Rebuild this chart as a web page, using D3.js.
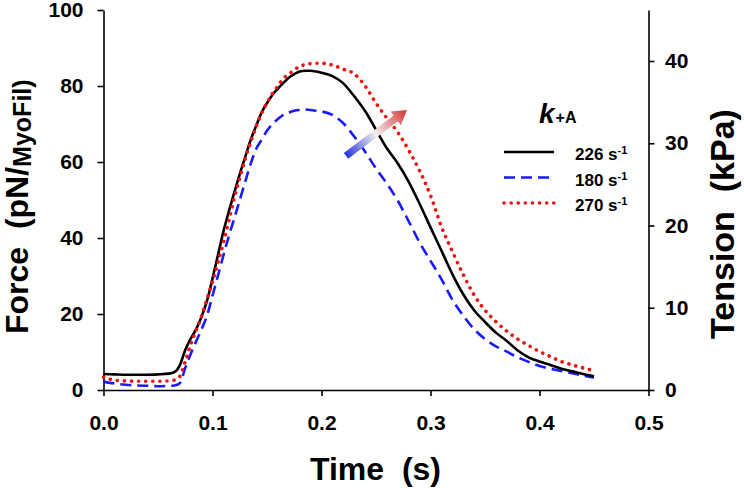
<!DOCTYPE html>
<html>
<head>
<meta charset="utf-8">
<script src="https://cdn.jsdelivr.net/npm/d3@7"></script>
<style>
  html, body { margin: 0; padding: 0; background: #fff; }
  svg { display: block; font-family: "Liberation Sans", Arial, sans-serif; }
</style>
</head>
<body>
<svg id="chart" width="744" height="488"></svg>
<script>
// ---------------- data ----------------
const TIME = [0, 0.01, 0.02, 0.03, 0.04, 0.05, 0.06, 0.065, 0.07, 0.075, 0.08, 0.085, 0.09, 0.095,
  0.10, 0.105, 0.11, 0.115, 0.12, 0.125, 0.13, 0.135, 0.14, 0.145, 0.15, 0.155, 0.16, 0.165, 0.17,
  0.175, 0.18, 0.185, 0.19, 0.195, 0.20, 0.21, 0.22, 0.23, 0.24, 0.25, 0.26, 0.27, 0.28, 0.29, 0.30,
  0.31, 0.32, 0.33, 0.34, 0.35, 0.36, 0.37, 0.38, 0.39, 0.40, 0.41, 0.42, 0.43, 0.44, 0.45];

const FORCE_226 = [4.2, 4.1, 4.0, 4.0, 4.0, 4.1, 4.3, 4.7, 6.5, 10.5, 13.5, 16.0, 19.3, 23.5,
  29.3, 35.5, 41.7, 47.0, 52.0, 56.8, 61.3, 65.8, 69.5, 73.0, 75.5, 77.7, 79.3, 80.8, 82.2,
  83.1, 83.8, 84.0, 84.0, 83.8, 83.5, 82.6, 80.7, 77.3, 73.4, 68.5, 63.6, 59.6, 54.8, 49.0, 42.8,
  36.7, 30.5, 25.2, 21.0, 17.9, 15.1, 12.9, 10.4, 8.6, 7.5, 6.6, 5.6, 4.9, 4.2, 3.6];

const FORCE_180 = [2.2, 1.7, 1.4, 1.2, 1.1, 1.0, 1.1, 1.2, 1.8, 5.8, 9.5, 12.8, 16.0, 19.6,
  24.8, 30.1, 35.4, 40.5, 45.2, 50.0, 54.8, 59.5, 63.4, 65.8, 68.2, 70.0, 71.3, 72.4, 73.0,
  73.5, 73.7, 73.8, 73.7, 73.5, 73.3, 72.4, 70.2, 66.7, 62.7, 58.3, 54.3, 49.8, 44.4, 38.8, 34.0,
  29.2, 23.8, 19.6, 16.0, 13.4, 11.5, 10.1, 8.6, 7.4, 6.3, 5.6, 5.0, 4.4, 3.8, 3.3];

const FORCE_270 = [3.4, 2.6, 2.4, 2.3, 2.3, 2.3, 2.4, 2.6, 3.6, 7.5, 12.0, 15.7, 19.5, 24.0,
  28.5, 33.5, 38.8, 44.5, 50.5, 55.8, 60.8, 65.3, 69.3, 72.8, 75.6, 78.0, 80.0, 82.0, 83.1,
  84.2, 85.2, 85.6, 85.9, 86.0, 86.0, 85.5, 84.4, 83.2, 80.0, 75.5, 71.5, 67.8, 63.1, 57.7, 51.2,
  43.0, 36.5, 30.4, 25.0, 21.0, 18.0, 15.5, 13.4, 11.7, 10.1, 8.8, 7.5, 6.6, 5.8, 5.1];

const SERIES_NAMES = ["226", "180", "270"];
const X_TICKS = [0, 0.1, 0.2, 0.3, 0.4, 0.5];
const FORCE_TICKS = [0, 20, 40, 60, 80, 100];
const TENSION_TICKS = [0, 10, 20, 30, 40];
const TENSION_MAX = 46.2;      // kPa equivalent of 100 pN/MyoFil
const ARROW_FROM = [0.2225, 61.6];  // (time, force)
const ARROW_TO = [0.2784, 73.7];

// ---------------- layout ----------------
const svg = d3.select("#chart");
const mLeft = 103.5, mRight = 648.5, mTop = 10, mBottom = 390;

const x = d3.scaleLinear().domain([0, 0.5]).range([mLeft, mRight]);
const yF = d3.scaleLinear().domain([0, 100]).range([mBottom, mTop]);
const yT = d3.scaleLinear().domain([0, TENSION_MAX]).range([mBottom, mTop]);

const styles = [
  { color: "#000000", dash: null, width: 2.6, cap: "butt" },
  { color: "#1a1aff", dash: "11,6", width: 2.6, cap: "butt" },
  { color: "#ee1111", dash: "0.1,7", width: 3.6, cap: "round" }
];
const seriesValues = [FORCE_226, FORCE_180, FORCE_270];

function styleAxis(g) {
  g.selectAll("path.domain").attr("stroke", "#000").attr("stroke-width", 1.6);
  g.selectAll(".tick line").attr("stroke", "#000").attr("stroke-width", 1.6);
  g.selectAll(".tick text").attr("fill", "#000")
    .style("font-size", "21px").style("font-weight", "bold");
}

svg.append("g").attr("transform", `translate(0,${mBottom})`)
  .call(d3.axisBottom(x).tickValues(X_TICKS).tickFormat(d3.format(".1f"))
    .tickSizeInner(6).tickSizeOuter(0).tickPadding(19))
  .call(styleAxis);

svg.append("g").attr("transform", `translate(${mLeft},0)`)
  .call(d3.axisLeft(yF).tickValues(FORCE_TICKS).tickFormat(d3.format("d"))
    .tickSizeInner(6).tickSizeOuter(0).tickPadding(14))
  .call(styleAxis);

svg.append("g").attr("transform", `translate(${mRight},0)`)
  .call(d3.axisRight(yT).tickValues(TENSION_TICKS).tickFormat(d3.format("d"))
    .tickSizeInner(6).tickSizeOuter(0).tickPadding(10.5))
  .call(styleAxis);

const line = d3.line().curve(d3.curveMonotoneX)
  .x((d, i) => x(TIME[i])).y(d => yF(d));

[1, 0, 2].forEach(k => {
  const s = styles[k];
  svg.append("path").datum(seriesValues[k])
    .attr("d", line).attr("fill", "none")
    .attr("stroke", s.color).attr("stroke-width", s.width)
    .attr("stroke-linecap", s.cap).attr("stroke-linejoin", "round")
    .attr("stroke-dasharray", s.dash);
});

// gradient arrow
const defs = svg.append("defs");
const ax0 = x(ARROW_FROM[0]), ay0 = yF(ARROW_FROM[1]);
const ax1 = x(ARROW_TO[0]), ay1 = yF(ARROW_TO[1]);
const grad = defs.append("linearGradient").attr("id", "arrowGrad")
  .attr("gradientUnits", "userSpaceOnUse")
  .attr("x1", ax0).attr("y1", ay0).attr("x2", ax1).attr("y2", ay1);
grad.append("stop").attr("offset", "0").attr("stop-color", "#2233dd");
grad.append("stop").attr("offset", "0.48").attr("stop-color", "#f4f0f0");
grad.append("stop").attr("offset", "1").attr("stop-color", "#d23232");

{
  const dx = ax1 - ax0, dy = ay1 - ay0, L = Math.hypot(dx, dy);
  const ux = dx / L, uy = dy / L, nx = -uy, ny = ux;
  const hw = 3.6, headL = 14, headW = 8.5;
  const bx = ax1 - ux * headL, by = ay1 - uy * headL;
  const pts = [
    [ax0 + nx * hw, ay0 + ny * hw], [bx + nx * hw, by + ny * hw], [bx + nx * headW, by + ny * headW],
    [ax1, ay1], [bx - nx * headW, by - ny * headW], [bx - nx * hw, by - ny * hw], [ax0 - nx * hw, ay0 - ny * hw]
  ];
  svg.append("polygon").attr("points", pts.map(p => p.join(",")).join(" "))
    .attr("fill", "url(#arrowGrad)");
}

// legend
const lg = svg.append("g");
const kt = lg.append("text").attr("x", 539).attr("y", 123).attr("fill", "#000")
  .style("font-weight", "bold");
kt.append("tspan").text("k").style("font-style", "italic").style("font-size", "28px");
kt.append("tspan").text("+A").style("font-size", "16px").attr("dx", 1);

SERIES_NAMES.forEach((name, i) => {
  const yy = 152 + i * 25.5;
  const s = styles[i];
  lg.append("line").attr("x1", 504).attr("x2", 554).attr("y1", yy).attr("y2", yy)
    .attr("stroke", s.color).attr("stroke-width", s.width)
    .attr("stroke-linecap", s.cap).attr("stroke-dasharray", s.dash);
  const t = lg.append("text").attr("x", 575).attr("y", yy + 8).attr("fill", "#000")
    .style("font-weight", "bold").style("font-size", "17px");
  t.append("tspan").text(name + " s");
  t.append("tspan").text("-1").style("font-size", "11px").attr("dy", -6);
});

// axis titles
svg.append("text").attr("x", 375.5).attr("y", 480).attr("text-anchor", "middle")
  .attr("fill", "#000").style("font-weight", "bold").style("font-size", "32px")
  .text("Time\u00A0\u00A0(s)");

const ft = svg.append("text").attr("transform", "translate(28,334) rotate(-90)")
  .attr("fill", "#000").style("font-weight", "bold").style("font-size", "32px");
ft.append("tspan").text("Force\u00A0\u00A0(pN/");
ft.append("tspan").text("MyoFil)").style("font-size", "25px").attr("dy", 3);

svg.append("text").attr("transform", "translate(734,224) rotate(-90)")
  .attr("text-anchor", "middle")
  .attr("fill", "#000").style("font-weight", "bold").style("font-size", "34px")
  .text("Tension\u00A0\u00A0(kPa)");
</script>
</body>
</html>
